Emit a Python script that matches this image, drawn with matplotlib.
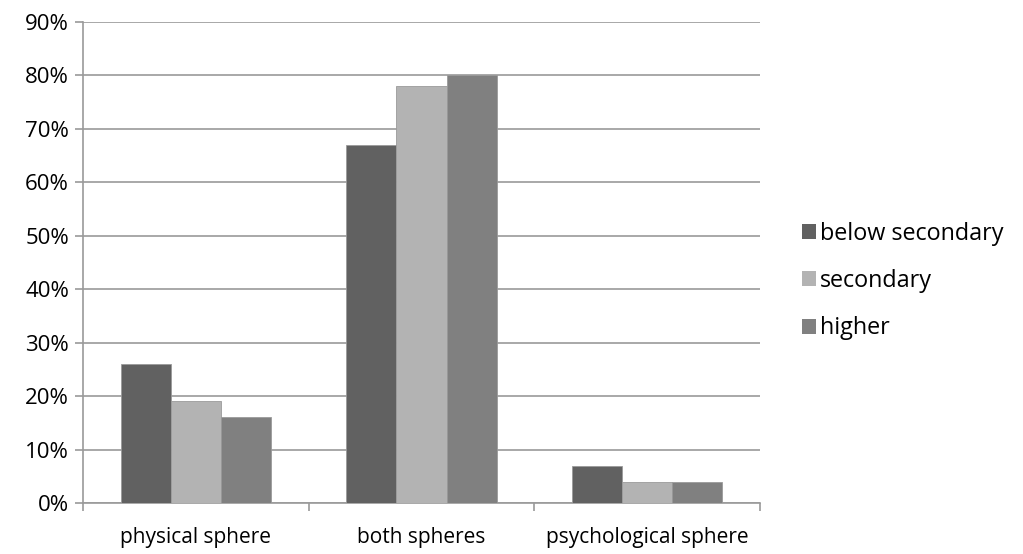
import numpy as np
import matplotlib.pyplot as plt
from matplotlib.patches import Patch
from matplotlib.ticker import PercentFormatter

plt.rcParams['font.family'] = ['Open Sans', 'DejaVu Sans']

categories = ['physical sphere', 'both spheres', 'psychological sphere']
series_names = ['below secondary', 'secondary', 'higher']
below_secondary = [26, 67, 7]
secondary = [19, 78, 4]
higher = [16, 80, 4]
colors = ['#616161', '#b3b3b3', '#808080']

fig = plt.figure(figsize=(10.23, 5.54), dpi=100)
ax = fig.add_axes([83 / 1023, 51 / 554, 677 / 1023, 481 / 554])

x = np.arange(len(categories))
width = 0.222
for i, (vals, c) in enumerate(zip([below_secondary, secondary, higher], colors)):
    ax.bar(x + (i - 1) * width, vals, width, color=c, edgecolor='#9a9a9a',
           linewidth=0.6, zorder=3)

ax.set_xlim(-0.5, 2.5)
ax.set_ylim(0, 90)
ax.set_yticks(np.arange(0, 91, 10))
ax.yaxis.set_major_formatter(PercentFormatter(decimals=0))
ax.yaxis.grid(True, color='#9a9a9a', linewidth=1.2, zorder=0)

# category boundaries get tick marks, names sit centred under each group
ax.set_xticks([-0.5, 0.5, 1.5, 2.5])
ax.set_xticklabels([])
ax.set_xticks(x, minor=True)
ax.set_xticklabels(categories, minor=True)
ax.tick_params(axis='x', which='minor', length=0, pad=17, labelsize=15)
ax.tick_params(axis='x', which='major', length=6, color='#9a9a9a', width=1.2)
ax.tick_params(axis='y', length=6, color='#9a9a9a', width=1.2, labelsize=16, pad=4)

for s in ['top', 'right']:
    ax.spines[s].set_visible(False)
for s in ['left', 'bottom']:
    ax.spines[s].set_color('#9a9a9a')
    ax.spines[s].set_linewidth(1.2)

handles = [Patch(facecolor=c, edgecolor='none') for c in colors]
fig.legend(handles, series_names, loc='center left', bbox_to_anchor=(802 / 1023, 1 - 281 / 554),
           frameon=False, fontsize=16.8, handlelength=0.6, handleheight=0.6,
           handletextpad=0.15, labelspacing=1.0, borderpad=0, borderaxespad=0)

fig.savefig('out.png', dpi=100)
